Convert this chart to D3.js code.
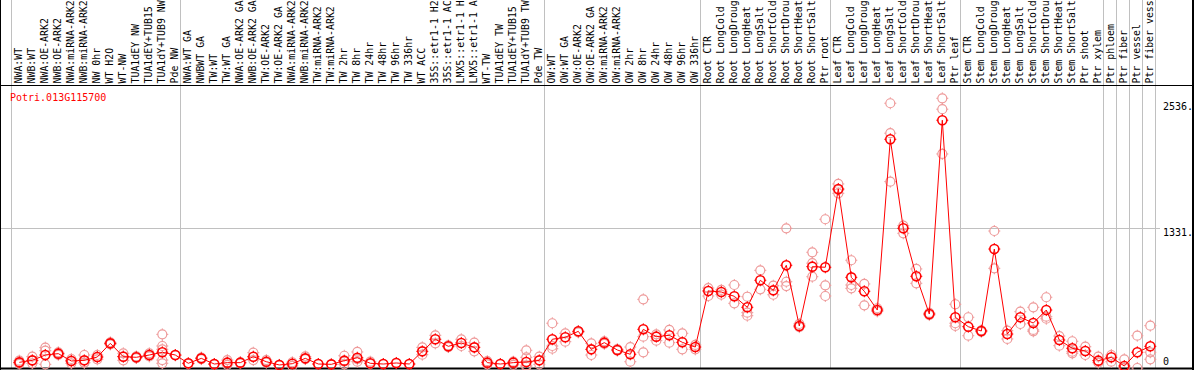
<!DOCTYPE html>
<html>
<head>
<meta charset="utf-8">
<script src="https://cdn.jsdelivr.net/npm/d3@7"></script>
<style>
  body { margin: 0; background: #fff; }
  svg { display: block; }
  text { font-family: "DejaVu Sans Mono", monospace; font-size: 10px; }
  text.lab { font-size: 9.9px; }
</style>
</head>
<body>
<div id="chart"></div>
<script>
const geneId = "Potri.013G115700";

const samples = [
  "NWA:WT", "NWB:WT", "NWA:OE-ARK2", "NWB:OE-ARK2", "NWA:miRNA-ARK2", "NWB:miRNA-ARK2",
  "NW 0hr", "WT H2O", "WT-NW", "TUA1dEY NW", "TUA1dEY+TUB15 NW", "TUA1dY+TUB9 NW", "Pde NW",
  "NWA:WT GA", "NWBWT GA", "TW:WT", "TW:WT GA", "NWA:OE-ARK2 GA", "NWB:OE-ARK2 GA",
  "TW:OE-ARK2", "TW:OE-ARK2 GA", "NWA:miRNA-ARK2 GA", "NWB:miRNA-ARK2 GA", "TW:miRNA-ARK2",
  "TW:miRNA-ARK2", "TW 2hr", "TW 8hr", "TW 24hr", "TW 48hr", "TW 96hr", "TW 336hr", "WT ACC",
  "35S::etr1-1 H2O", "35S::etr1-1 ACC", "LMX5::etr1-1 H2O", "LMX5::etr1-1 ACC", "WT-TW",
  "TUA1dEY TW", "TUA1dEY+TUB15 TW", "TUA1dY+TUB9 TW", "Pde TW",
  "OW:WT", "OW:WT GA", "OW:OE-ARK2", "OW:OE-ARK2 GA", "OW:miRNA-ARK2", "OW:miRNA-ARK2 GA",
  "OW 2hr", "OW 8hr", "OW 24hr", "OW 48hr", "OW 96hr", "OW 336hr",
  "Root CTR", "Root LongCold", "Root LongDrought", "Root LongHeat", "Root LongSalt",
  "Root ShortCold", "Root ShortDrought", "Root ShortHeat", "Root ShortSalt", "Ptr root",
  "Leaf CTR", "Leaf LongCold", "Leaf LongDrought", "Leaf LongHeat", "Leaf LongSalt",
  "Leaf ShortCold", "Leaf ShortDrought", "Leaf ShortHeat", "Leaf ShortSalt", "Ptr leaf",
  "Stem CTR", "Stem LongCold", "Stem LongDrought", "Stem LongHeat", "Stem LongSalt",
  "Stem ShortCold", "Stem ShortDrought", "Stem ShortHeat", "Stem ShortSalt", "Ptr shoot",
  "Ptr xylem", "Ptr phloem", "Ptr fiber", "Ptr vessel", "Ptr fiber vessel"
];

const means = [
  54, 73, 124, 137, 67, 73, 105, 235, 108, 102, 124, 150, 124,
  45, 92, 38, 51, 51, 108, 60, 29, 41, 92, 38, 35, 70, 98, 45, 38, 48, 38, 159,
  274, 207, 239, 197, 51, 38, 51, 57, 73,
  274, 293, 350, 178, 242, 172, 131, 369, 299, 312, 245, 200,
  735, 725, 684, 579, 837, 741, 980, 401, 967, 961,
  1708, 865, 732, 553, 2182, 1333, 875, 515, 2364, 484,
  394, 353, 1135, 324, 484, 429, 553, 267, 188, 162,
  70, 102, 19, 150, 207
];

const replicates = [
  [54, 40, 70], [108, 45, 70], [194, 165, 35], [150, 125, 137], [86, 45, 70], [124, 51, 50],
  [124, 83, 105], [245, 225, 235], [140, 73, 110], [110, 95, 100], [140, 110, 124],
  [321, 210, 178, 76, 45], [124, 120],
  [45, 40], [100, 85], [38, 35], [76, 30, 51], [55, 45], [146, 76, 105], [76, 50], [29, 25],
  [55, 20], [110, 85], [38], [35], [117, 35, 60], [153, 60, 85], [60, 40], [38], [48], [38],
  [197, 127], [312, 235], [215, 200], [274, 210], [242, 159], [65, 35], [38], [60, 30],
  [169, 102, 26, 12], [108, 35],
  [427, 210, 184], [331, 251], [350, 340], [235, 124], [255, 230], [180, 165], [200, 60],
  [655, 299, 150], [321, 261], [363, 242], [331, 178], [220, 178],
  [763, 687], [745, 700], [792, 617], [680, 528, 499], [932, 751], [785, 699],
  [1333, 823, 782], [420, 390], [1104, 871, 1000], [1419, 789, 687],
  [1756, 1667, 1700], [1028, 792, 760], [802, 598], [570, 540], [2526, 2240, 1778],
  [1358, 1285], [945, 808], [525, 505], [2573, 2469, 2042], [608, 427, 401],
  [484, 308], [360, 345], [1307, 951], [356, 277], [537, 420], [579, 363, 350],
  [675, 490, 470], [305, 213], [255, 156, 140], [203, 124],
  [108, 51], [124, 60], [83, 0], [308, 0], [404, 150, 83]
];

// separators drawn after these sample indexes
const groupEnds = [-1, 12, 40, 52, 62, 72, 83, 84, 85, 86, 87];

const tickValues = [0, 1331, 2536];
const tickLabels = ["0", "1331.", "2536."];

const W = 1194, H = 370;
const plotTop = 85, plotBottom = 368;
const maxChars = 14; // the labels column only fits 14 characters

const svg = d3.select("#chart").append("svg")
  .attr("width", W)
  .attr("height", H);

const x = d3.scaleLinear().domain([0, samples.length - 1]).range([19.3, 19.3 + 13 * (samples.length - 1)]);
const y = d3.scaleLinear().domain([0, 2700]).range([plotBottom, plotTop]);

// midline grid
svg.append("line")
  .attr("x1", 0).attr("x2", 1160)
  .attr("y1", Math.round(y(1331)) + 0.5).attr("y2", Math.round(y(1331)) + 0.5)
  .attr("stroke", "#c0c0c0");

// group separators
svg.selectAll(".sep")
  .data(groupEnds)
  .enter().append("line")
  .attr("class", "sep")
  .attr("x1", d => Math.round(x(d) + 5) + 0.5)
  .attr("x2", d => Math.round(x(d) + 5) + 0.5)
  .attr("y1", 0).attr("y2", plotBottom)
  .attr("stroke", "#c0c0c0");

// frame
svg.append("line").attr("x1", 0).attr("x2", W).attr("y1", plotTop + 0.5).attr("y2", plotTop + 0.5).attr("stroke", "#000");
svg.append("line").attr("x1", 0).attr("x2", W).attr("y1", plotBottom + 0.5).attr("y2", plotBottom + 0.5).attr("stroke", "#000").attr("stroke-width", 2);
svg.append("line").attr("x1", 0.5).attr("x2", 0.5).attr("y1", 0).attr("y2", H).attr("stroke", "#000");
svg.append("line").attr("x1", W - 1).attr("x2", W - 1).attr("y1", 0).attr("y2", H).attr("stroke", "#000").attr("stroke-width", 2);

// sample labels
svg.selectAll(".lab")
  .data(samples)
  .enter().append("text")
  .attr("class", "lab")
  .attr("transform", (d, i) => `translate(${x(i) + 3},${plotTop - 1.5}) rotate(-90)`)
  .attr("fill", "#000")
  .text(d => d.slice(0, maxChars));

// gene id
svg.append("text")
  .attr("x", 10).attr("y", 101)
  .attr("fill", "#ff0000")
  .text(geneId);

// right axis labels
svg.selectAll(".tick")
  .data(tickValues)
  .enter().append("text")
  .attr("class", "tick")
  .attr("x", 1163)
  .attr("y", d => Math.min(y(d), plotBottom - 11) + 8)
  .attr("fill", "#000")
  .text((d, i) => tickLabels[i]);

function marker(g, cx, cy, color, sw) {
  const r = 4.5;
  g.append("circle").attr("cx", cx).attr("cy", cy).attr("r", r)
    .attr("fill", "none").attr("stroke", color).attr("stroke-width", sw);
  [[0, -1], [0, 1], [-1, 0], [1, 0]].forEach(([dx, dy]) => {
    g.append("line")
      .attr("x1", cx + dx * r).attr("y1", cy + dy * r)
      .attr("x2", cx + dx * (r + 1.5)).attr("y2", cy + dy * (r + 1.5))
      .attr("stroke", color).attr("stroke-width", 1);
  });
}

// replicate points
const repG = svg.append("g");
replicates.forEach((reps, i) => {
  reps.forEach(v => marker(repG, x(i), y(v), "#ee9a9a", 1.2));
});

// mean line
svg.append("path")
  .datum(means)
  .attr("fill", "none")
  .attr("stroke", "#ff0000")
  .attr("stroke-width", 1)
  .attr("d", d3.line().x((d, i) => x(i)).y(d => y(d)));

// mean points
const meanG = svg.append("g");
means.forEach((v, i) => marker(meanG, x(i), y(v), "#ff0000", 1.6));
</script>
</body>
</html>
